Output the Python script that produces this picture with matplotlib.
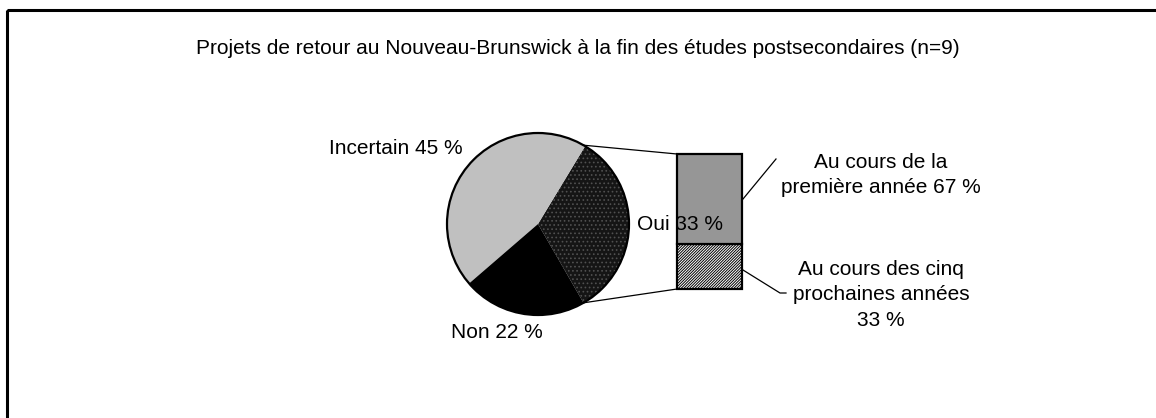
import numpy as np
import matplotlib
matplotlib.use("Agg")
import matplotlib.pyplot as plt
from matplotlib.patches import Rectangle, Circle

plt.rcParams['font.family'] = ['Liberation Sans', 'DejaVu Sans']
plt.rcParams['hatch.linewidth'] = 0.7

title = "Projets de retour au Nouveau-Brunswick à la fin des études postsecondaires (n=9)"

# pie: Oui, Incertain, Non
pie_labels = ["Oui", "Incertain", "Non"]
pie_values = [33, 45, 22]
pie_colors = ["#151515", "#c0c0c0", "#000000"]

# breakdown of "Oui"
bar_labels = ["Au cours des cinq\nprochaines années", "Au cours de la\npremière année"]
bar_values = [33, 67]

W, H = 1156, 418
fig = plt.figure(figsize=(W / 100, H / 100), dpi=100)
ax = fig.add_axes([0, 0, 1, 1])

# pie geometry in pixel coords (y down)
cx, cy, r = 538, 224, 91
wedges, _ = ax.pie(pie_values, colors=pie_colors, startangle=60, counterclock=False,
                   center=(cx, cy), radius=r, frame=True,
                   wedgeprops=dict(linewidth=0))
wedges[0].set_hatch("....")
wedges[0].set_edgecolor("#505050")
ax.add_patch(Circle((cx, cy), r, fill=False, edgecolor="black", lw=1.6, zorder=5))

# stacked bar for the "Oui" slice
bx, bw, bbot = 709.5, 65, 289
scale = 135 / 100
bottom = bbot
bar_colors = ["white", "#969696"]
bar_hatch = ["////////////", None]
tops = []
for v, c, h in zip(bar_values, bar_colors, bar_hatch):
    ax.bar(bx, -v * scale, bottom=bottom, width=bw, color=c, hatch=h,
           edgecolor="black", linewidth=1.6, zorder=3)
    tops.append((bottom, bottom - v * scale))
    bottom -= v * scale

# connector lines from the pie to the bar
a = np.deg2rad(60)
ax.plot([cx + r * np.cos(a), bx - bw / 2], [cy - r * np.sin(a), tops[-1][1]], color="black", lw=0.9)
ax.plot([cx + r * np.cos(a), bx - bw / 2], [cy + r * np.sin(a), bbot], color="black", lw=0.9)

# labels
fs = 15
ax.text(578, 48, title, ha="center", va="center", fontsize=fs)
ax.text(396, 148, f"{pie_labels[1]} {pie_values[1]} %", ha="center", va="center", fontsize=fs)
ax.text(497, 333, f"{pie_labels[2]} {pie_values[2]} %", ha="center", va="center", fontsize=fs)
ax.text(680, 224, f"{pie_labels[0]} {pie_values[0]} %", ha="center", va="center", fontsize=fs, zorder=6)

ax.text(881, 175, f"{bar_labels[1]} {bar_values[1]} %", ha="center", va="center",
        fontsize=fs, linespacing=1.45)
ax.text(881, 295, f"{bar_labels[0]}\n{bar_values[0]} %", ha="center", va="center",
        fontsize=fs, linespacing=1.45)

# leader lines
ax.plot([743, 776], [199, 159], color="black", lw=0.9)
ax.plot([743, 780, 786], [270, 293, 293], color="black", lw=0.9)

# chart border (right and bottom fall outside the picture)
ax.add_patch(Rectangle((7, 10), W + 20, H + 20, fill=False, edgecolor="black", lw=2.2, zorder=10))

ax.set_xlim(0, W)
ax.set_ylim(H, 0)
ax.set_aspect("equal")
ax.axis("off")

fig.savefig("out.png", dpi=100)
